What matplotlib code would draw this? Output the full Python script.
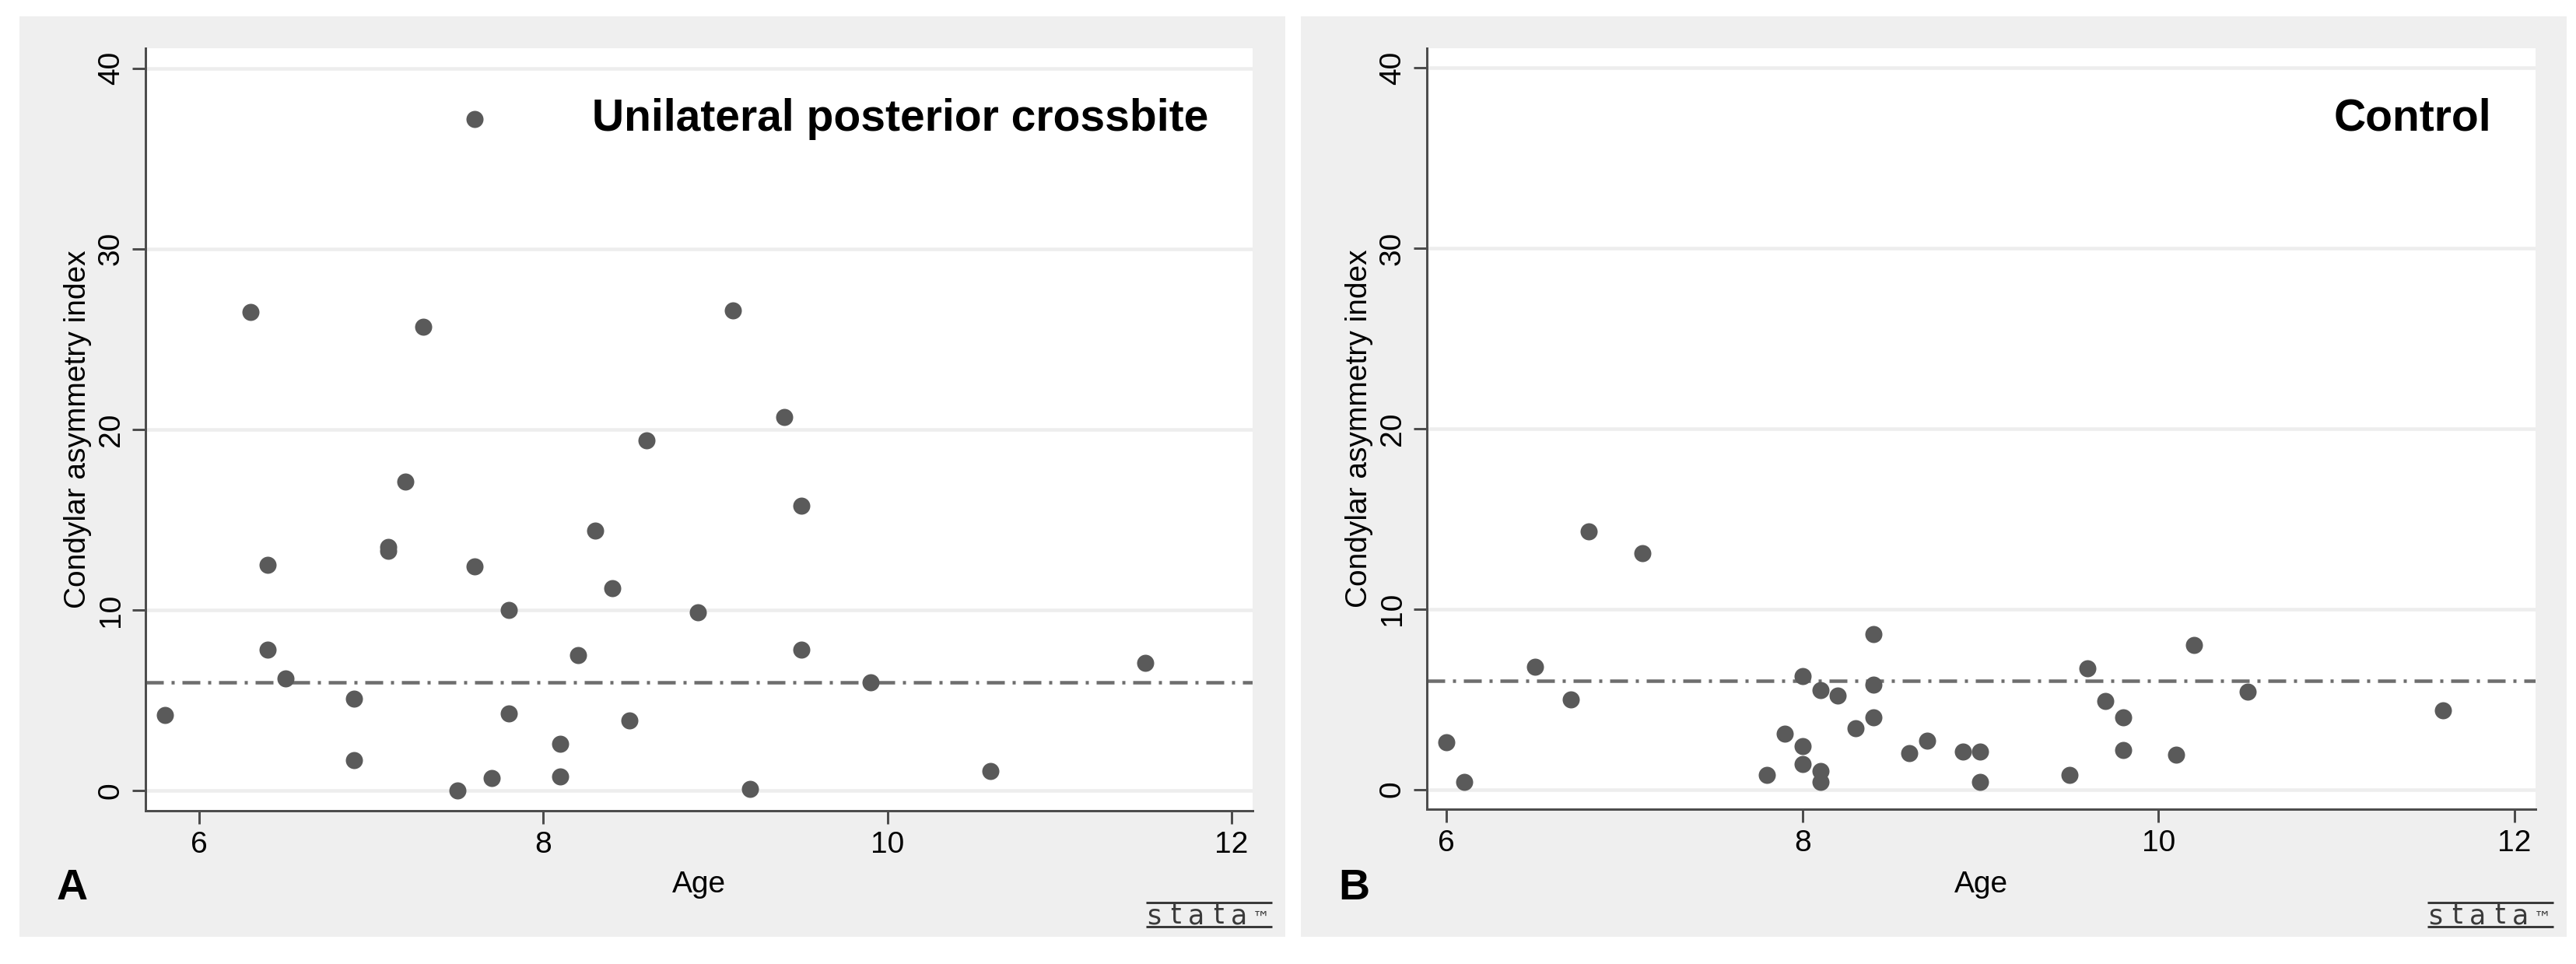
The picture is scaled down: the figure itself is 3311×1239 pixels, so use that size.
import matplotlib
matplotlib.use("Agg")
import matplotlib.pyplot as plt
from matplotlib.patches import Rectangle
from matplotlib.lines import Line2D

plt.rcParams['font.family'] = ['Liberation Sans', 'DejaVu Sans']
plt.rcParams['lines.scale_dashes'] = False

# ---------------- data ----------------
age_crossbite = [5.8, 6.3, 6.4, 6.4, 6.5, 6.9, 6.9, 7.1, 7.1, 7.2, 7.3, 7.5, 7.6, 7.6,
                 7.7, 7.8, 7.8, 8.1, 8.1, 8.2, 8.3, 8.4, 8.5, 8.6, 8.9, 9.1, 9.2, 9.4,
                 9.5, 9.5, 9.9, 10.6, 11.5]
cai_crossbite = [4.2, 26.5, 12.5, 7.8, 6.2, 5.1, 1.7, 13.5, 13.3, 17.1, 25.7, 0.0, 37.2, 12.4,
                 0.7, 10.0, 4.3, 2.6, 0.8, 7.5, 14.4, 11.2, 3.9, 19.4, 9.9, 26.6, 0.1, 20.7,
                 15.8, 7.8, 6.0, 1.1, 7.1]

age_control = [6.0, 6.1, 6.5, 6.7, 6.8, 7.1, 7.8, 7.9, 8.0, 8.0, 8.0, 8.1, 8.1, 8.1,
               8.2, 8.3, 8.4, 8.4, 8.4, 8.6, 8.7, 8.9, 9.0, 9.0, 9.5, 9.6, 9.7, 9.8,
               9.8, 10.1, 10.2, 10.5, 11.6]
cai_control = [2.6, 0.4, 6.8, 5.0, 14.3, 13.1, 0.8, 3.1, 6.3, 2.4, 1.4, 5.5, 1.0, 0.4,
               5.2, 3.4, 8.6, 5.8, 4.0, 2.0, 2.7, 2.1, 2.1, 0.4, 0.8, 6.7, 4.9, 4.0,
               2.2, 1.9, 8.0, 5.4, 4.4]

reference_line = 6
y_ticks = [0, 10, 20, 30, 40]
x_ticks = [6, 8, 10, 12]
panel_titles = ["Unilateral posterior crossbite", "Control"]
panel_letters = ["A", "B"]
x_label = "Age"
y_label = "Condylar asymmetry index"
logo_letters = ["s", "t", "a", "t", "a", "\u2122"]

# ---------------- layout (pixels) ----------------
W, H, DPI = 3312, 1239, 100
fig = plt.figure(figsize=(W / DPI, H / DPI), dpi=DPI)
fig.patch.set_facecolor("white")


def fx(x):
    return x / W


def fy(y):
    return 1 - y / H


def pt(px):
    return px * 72.0 / DPI


panels = [
    dict(age=age_crossbite, cai=cai_crossbite, box=(187, 62, 1610, 1042),
         xlim=(5.688, 12.122), bg=(25, 21, 1652, 1204), dx=0),
    dict(age=age_control, cai=cai_control, box=(1834, 62, 3259, 1040),
         xlim=(5.891, 12.118), bg=(1672, 21, 3299, 1204), dx=1647),
]

bg_col = "#efefef"
axis_col = "#4d4d4d"
marker_col = "#5a5a5a"
grid_col = "#ededed"
TICK_FS = 28
TXT_Z = 20

for i, p in enumerate(panels):
    x0, y0, x1, y1 = p["bg"]
    fig.patches.append(Rectangle((fx(x0), fy(y1)), (x1 - x0) / W, (y1 - y0) / H,
                                 transform=fig.transFigure, facecolor=bg_col,
                                 edgecolor="none", zorder=-10))
    l, t, r, b = p["box"]
    ax = fig.add_axes([fx(l), fy(b), (r - l) / W, (b - t) / H])
    ax.set_zorder(5)
    ax.set_facecolor("white")
    ax.set_xlim(*p["xlim"])
    ax.set_ylim(-1.1, 41.1)
    ax.set_xticks(x_ticks)
    ax.set_yticks(y_ticks)
    ax.set_xticklabels([str(v) for v in x_ticks])
    ax.set_yticklabels([str(v) for v in y_ticks])
    ax.set_axisbelow(True)
    ax.grid(axis="y", color=grid_col, lw=pt(4.5))
    ax.grid(axis="x", visible=False)
    for s in ["top", "right"]:
        ax.spines[s].set_visible(False)
    for s in ["left", "bottom"]:
        ax.spines[s].set_color(axis_col)
        ax.spines[s].set_linewidth(pt(3))
    ax.tick_params(axis="both", length=pt(17), width=pt(3), color=axis_col,
                   labelsize=TICK_FS, labelcolor="black")
    ax.tick_params(axis="x", pad=pt(9))
    ax.tick_params(axis="y", pad=pt(9), labelrotation=90)
    for lab in ax.get_yticklabels():
        lab.set_va("center")
        lab.set_ha("right")

    ax.axhline(reference_line, color="#6e6e6e", lw=pt(4.5),
               dashes=(pt(23), pt(10), pt(4), pt(10)), zorder=2)
    ax.plot(p["age"], p["cai"], linestyle="none", marker="o", ms=pt(22),
            color=marker_col, mec=marker_col, mew=0, zorder=3)

    # panel title inside plot region
    ax.text(fx(r - 55) * 0 + 1 - 57 / (r - l), 1 - (168 - t) / (b - t),
            panel_titles[i], transform=ax.transAxes, ha="right", va="baseline",
            fontsize=41, fontweight="bold", color="black", zorder=TXT_Z)

    dx = p["dx"]
    cx = (l + r) / 2
    fig.text(fx(cx), fy(1147), x_label, ha="center", va="baseline",
             fontsize=TICK_FS, color="black", zorder=TXT_Z)
    fig.text(fx(l - 77), fy((t + b) / 2), y_label, rotation=90,
             rotation_mode="anchor", ha="center", va="baseline",
             fontsize=TICK_FS, color="black", zorder=TXT_Z)
    fig.text(fx(73 + dx), fy(1156), panel_letters[i], ha="left", va="baseline",
             fontsize=40, fontweight="bold", color="black", zorder=TXT_Z)

    # stata logo
    for yy in (1160, 1191):
        fig.add_artist(Line2D([fx(1473 + dx), fx(1635 + dx)], [fy(yy), fy(yy)],
                              transform=fig.transFigure, color="#3a3a3a",
                              lw=pt(3), solid_capstyle="butt", zorder=TXT_Z))
    for k, ch in enumerate(logo_letters):
        fs = 25 if ch != "\u2122" else 16
        fig.text(fx(1483 + dx + 27.5 * k), fy(1187), ch, ha="center", va="baseline",
                 fontsize=fs, color="#3a3a3a", family="DejaVu Sans", zorder=TXT_Z)

fig.savefig("out.png", dpi=DPI, facecolor=fig.get_facecolor())
